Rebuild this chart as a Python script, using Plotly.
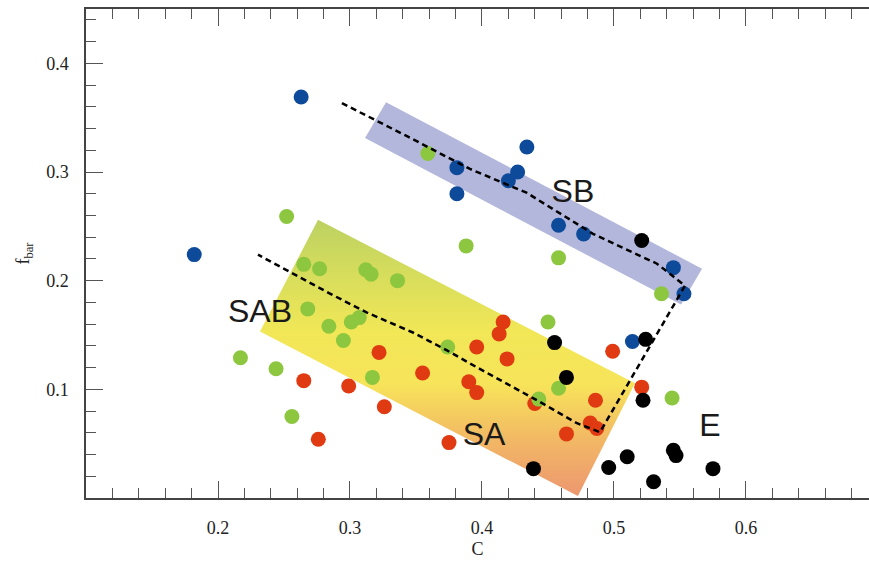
import plotly.graph_objects as go

# ---- data (C, f_bar) per class ----
blue_C = [0.263, 0.182, 0.434, 0.427, 0.420, 0.381, 0.381, 0.458, 0.477, 0.545, 0.553, 0.514]
blue_f = [0.369, 0.224, 0.323, 0.300, 0.292, 0.304, 0.280, 0.251, 0.243, 0.212, 0.188, 0.144]

black_C = [0.455, 0.464, 0.521, 0.524, 0.522, 0.439, 0.496, 0.510, 0.530, 0.545, 0.547, 0.575]
black_f = [0.143, 0.111, 0.237, 0.146, 0.090, 0.027, 0.028, 0.038, 0.015, 0.044, 0.039, 0.027]

red_C = [0.416, 0.413, 0.396, 0.419, 0.322, 0.355, 0.390, 0.396, 0.326, 0.265,
         0.299, 0.276, 0.375, 0.440, 0.464, 0.486, 0.482, 0.487, 0.499, 0.521]
red_f = [0.162, 0.151, 0.139, 0.128, 0.134, 0.115, 0.107, 0.097, 0.084, 0.108,
         0.103, 0.054, 0.051, 0.087, 0.059, 0.090, 0.069, 0.064, 0.135, 0.102]

green_C = [0.252, 0.388, 0.265, 0.277, 0.312, 0.316, 0.336, 0.268, 0.284, 0.301, 0.307, 0.295,
           0.374, 0.217, 0.244, 0.317, 0.256, 0.359, 0.458, 0.536, 0.450, 0.458, 0.443, 0.544]
green_f = [0.259, 0.232, 0.215, 0.211, 0.210, 0.206, 0.200, 0.174, 0.158, 0.162, 0.166, 0.145,
           0.139, 0.129, 0.119, 0.111, 0.075, 0.317, 0.221, 0.188, 0.162, 0.101, 0.091, 0.092]

# region bands (corners in data units)
sb_band_C = [0.3273, 0.5667, 0.5508, 0.3114]
sb_band_f = [0.3642, 0.2110, 0.1780, 0.3312]
sa_band_C = [0.2758, 0.5159, 0.4727, 0.2318]
sa_band_f = [0.2560, 0.1055, 0.0018, 0.1532]

# dashed sequence track
track_C = [0.2939, 0.3432, 0.3909, 0.4341, 0.4841, 0.5326, 0.5538, 0.4894,
           0.4720, 0.4417, 0.3962, 0.3735, 0.3477, 0.3129, 0.2848, 0.2568, 0.2303]
track_f = [0.3633, 0.3330, 0.3028, 0.2807, 0.2431, 0.2156, 0.1954, 0.0606,
           0.0688, 0.0899, 0.1202, 0.1358, 0.1523, 0.1706, 0.1881, 0.2064, 0.2239]

labels = ["SB", "SAB", "SA", "E"]
label_C = [0.4689, 0.2318, 0.4015, 0.5727]
label_f = [0.2798, 0.1697, 0.0560, 0.0642]

x_ticks = [0.2, 0.3, 0.4, 0.5, 0.6]
y_ticks = [0.1, 0.2, 0.3, 0.4]

SERIF = "Liberation Serif"

fig = go.Figure()

fig.add_trace(go.Scatter(
    x=sa_band_C + [sa_band_C[0]], y=sa_band_f + [sa_band_f[0]],
    mode="none", fill="toself",
    fillgradient=dict(type="vertical", start=0.0, stop=0.256,
                      colorscale=[[0.0, "#ec9670"], [0.21, "#f2b864"], [0.41, "#f7e45a"],
                                  [0.6, "#f1e757"], [0.82, "#d4dc5c"], [1.0, "#bcd162"]]),
    hoverinfo="skip", showlegend=False))

fig.add_trace(go.Scatter(
    x=sb_band_C + [sb_band_C[0]], y=sb_band_f + [sb_band_f[0]],
    mode="none", fill="toself", fillcolor="#b3b7db",
    hoverinfo="skip", showlegend=False))

for xs, ys, col in [(red_C, red_f, "#e03a12"), (green_C, green_f, "#8dc63f"),
                    (blue_C, blue_f, "#0e4a9a"), (black_C, black_f, "#000000")]:
    fig.add_trace(go.Scatter(x=xs, y=ys, mode="markers",
                             marker=dict(size=15, color=col, line=dict(width=0)),
                             showlegend=False))

fig.add_trace(go.Scatter(x=track_C, y=track_f, mode="lines",
                         line=dict(color="black", width=2.5, dash="6px,4px"),
                         showlegend=False))

fig.add_trace(go.Scatter(x=label_C, y=label_f, mode="text", text=labels,
                         textfont=dict(family="Liberation Sans", size=32, color="#1a1a1a"),
                         showlegend=False))

tickfont = dict(family=SERIF, size=18, color="#222")

fig.update_layout(
    width=869, height=562,
    margin=dict(l=86, r=0, t=9, b=64),
    plot_bgcolor="white", paper_bgcolor="white",
    xaxis=dict(range=[0.1, 0.6932], tickmode="array", tickvals=x_ticks,
               ticktext=[f"{v:.1f}" for v in x_ticks], ticklabelstandoff=13,
               showgrid=False, zeroline=False, showline=True, linecolor="#444", linewidth=1.5,
               ticks="inside", ticklen=17, tickcolor="#555", tickwidth=1.2, mirror="allticks",
               tickfont=tickfont,
               minor=dict(tickmode="linear", tick0=0.1, dtick=0.02, ticks="inside",
                          ticklen=10, tickcolor="#555", tickwidth=1.2),
               title=dict(text="C", standoff=5, font=dict(family=SERIF, size=18, color="#222"))),
    yaxis=dict(range=[0.0, 0.45], tickmode="array", tickvals=y_ticks,
               ticktext=[f"{v:.1f}" for v in y_ticks], ticklabelstandoff=12,
               showgrid=False, zeroline=False, showline=True, linecolor="#444", linewidth=1.5,
               ticks="inside", ticklen=17, tickcolor="#555", tickwidth=1.2, mirror=False,
               tickfont=tickfont,
               minor=dict(tickmode="linear", tick0=0.0, dtick=0.02, ticks="inside",
                          ticklen=10, tickcolor="#555", tickwidth=1.2),
               title=dict(text="f<sub>bar</sub>", standoff=12,
                          font=dict(family=SERIF, size=18, color="#222"))),
    yaxis2=dict(range=[0.0, 0.45], overlaying="y", side="right", matches="y",
                tickmode="array", tickvals=y_ticks, showticklabels=False,
                showgrid=False, zeroline=False, showline=False,
                ticks="inside", ticklen=7, tickcolor="#555", tickwidth=1.2),
)

fig.write_html("out.html")
